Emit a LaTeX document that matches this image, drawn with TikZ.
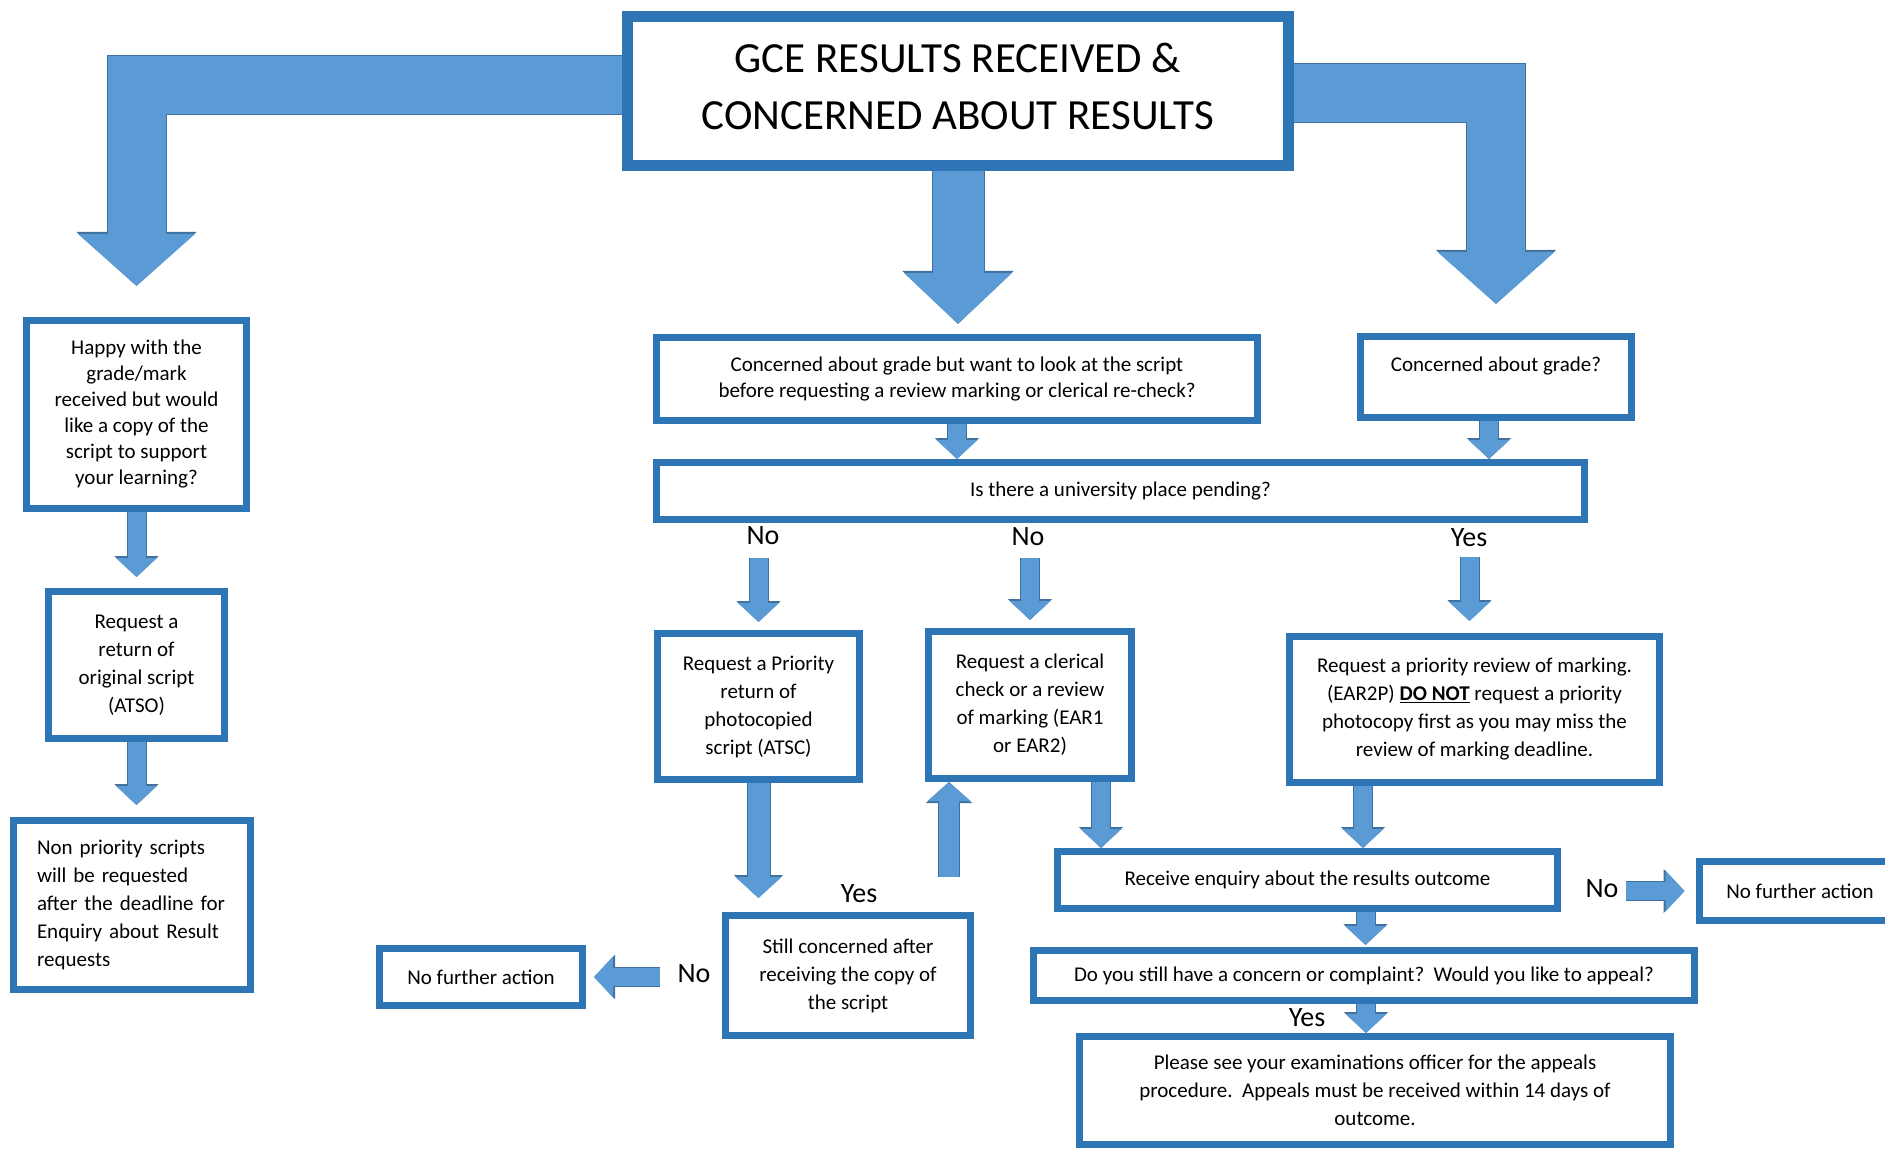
\documentclass[tikz,border=0pt]{standalone}
\usepackage{fontspec}
\setmainfont{Carlito}
\usetikzlibrary{arrows.meta}
\definecolor{boxblue}{RGB}{46, 117, 182}
\definecolor{arrowfill}{RGB}{91, 155, 213}
\definecolor{arrowline}{RGB}{65, 113, 156}

\begin{document}
\begin{tikzpicture}[
        x=1pt, y=-1pt,
        box/.style={draw=boxblue, line width=7pt, fill=white, align=center,
            inner sep=0pt, font=\fontsize{21}{28}\selectfont},
        answer/.style={inner sep=0pt, font=\fontsize{28}{34}\selectfont},
        fat/.style n args={3}{
            draw=arrowfill, line width=#1, -{Triangle[width=#2, length=#3]},
            preaction={draw=arrowline, line width=#1+2pt,
                -{Triangle[width=#2+3pt, length=#3+2pt]}}
        },
        smallarrow/.style={fat={18pt}{40pt}{19pt}},
        bigarrow/.style={fat={58pt}{114pt}{52pt}}
    ]
        \useasboundingbox (0,0) rectangle (1885,1150);
        \clip (0,0) rectangle (1885,1150);

        \node (1) [
            box,
            line width=11pt,
            minimum width=661pt,
            minimum height=149pt,
            font=\fontsize{43}{57}\selectfont
        ] at (958,91)
        {GCE RESULTS RECEIVED \&\\CONCERNED ABOUT RESULTS\rule[-10pt]{0pt}{0pt}};

        \node (2) [
            box,
            minimum width=220pt,
            minimum height=188pt,
            font=\fontsize{21}{26}\selectfont
        ] at (136.5,414.5)
        {Happy with the\\grade/mark\\received but would\\like a copy of the\\script to support\\your learning?};

        \node (3) [box, minimum width=176pt, minimum height=147pt] at (136.5,665)
        {Request a\\return of\\original script\\(ATSO)};

        \node (4) [
            box,
            align=left,
            text width=190pt,
            minimum width=237pt,
            minimum height=169pt
        ] at (132,905)
        {Non priority scripts\\will be requested\\after the deadline for\\Enquiry about Result\\requests};

        \node (5) [
            box,
            minimum width=601pt,
            minimum height=83pt,
            font=\fontsize{21}{26}\selectfont
        ] at (957,379)
        {Concerned about grade but want to look at the script\\before requesting a review marking or clerical re-check?};

        \node (6) [
            box,
            minimum width=271pt,
            minimum height=81pt,
            font=\fontsize{21}{26}\selectfont
        ] at (1496,377)
        {Concerned about grade?\\\mbox{}};

        \node (7) [box, minimum width=928pt, minimum height=57pt] at (1120.5,491)
        {Is there a university place pending?};

        \node (8) [box, minimum width=202pt, minimum height=146pt] at (758.5,706.5)
        {Request a Priority\\return of\\photocopied\\script (ATSC)};

        \node (9) [box, minimum width=203pt, minimum height=147pt] at (1030,705)
        {Request a clerical\\check or a review\\of marking (EAR1\\or EAR2)};

        \node (10) [box, minimum width=370pt, minimum height=146pt] at (1474.5,709.5)
        {Request a priority review of marking.\\(EAR2P) \underline{\textbf{DO NOT}} request a priority\\photocopy first as you may miss the\\review of marking deadline.};

        \node (11) [box, minimum width=245pt, minimum height=120pt] at (848,975.5)
        {Still concerned after\\receiving the copy of\\the script};

        \node (12) [box, minimum width=203pt, minimum height=57pt] at (481,977)
        {No further action};

        \node (13) [box, minimum width=500pt, minimum height=57pt] at (1307.5,880)
        {Receive enquiry about the results outcome};

        \node (14) [box, minimum width=202pt, minimum height=59pt] at (1800,891)
        {No further action};

        \node (15) [box, minimum width=661pt, minimum height=50pt] at (1364,975.5)
        {Do you still have a concern or complaint?\ \ Would you like to appeal?};

        \node (16) [box, minimum width=591pt, minimum height=108pt] at (1375,1090.5)
        {Please see your examinations officer for the appeals\\procedure.\ \ Appeals must be received within 14 days of\\outcome.};

        % yes / no answers
        \node (no1) [answer] at (763,536) {No};
        \node (no2) [answer] at (1028,537) {No};
        \node (yes1) [answer] at (1469,538) {Yes};
        \node (yes2) [answer] at (859,894) {Yes};
        \node (no3) [answer] at (694,974) {No};
        \node (no4) [answer] at (1602,889) {No};
        \node (yes3) [answer] at (1307,1018) {Yes};

        \draw[bigarrow, shorten >=31pt] ([yshift=6pt]1.west) -| (2.north);
        \draw[bigarrow, shorten >=29pt] ([yshift=-2.5pt]1.east) -| (6.north);
        \draw[fat={51pt}{105pt}{51pt}, shorten >=10pt] (1.south) to (1.south |- 5.north);

        \draw[smallarrow, shorten >=11pt] (2.south) to (2.south |- 3.north);
        \draw[smallarrow, shorten >=12pt] (3.south) to (3.south |- 4.north);
        \draw[smallarrow] (5.south) to (5.south |- 7.north);
        \draw[smallarrow] ([xshift=-7pt]6.south) to ([xshift=-7pt]6.south |- 7.north);
        \draw[smallarrow, shorten <=35pt, shorten >=8pt] (8.north |- 7.south) to (8.north);
        \draw[smallarrow, shorten <=35pt, shorten >=8pt] (9.north |- 7.south) to (9.north);
        \draw[smallarrow, shorten <=34pt, shorten >=12pt] ([xshift=-5pt]10.north |- 7.south) to ([xshift=-5pt]10.north);
        \draw[fat={22pt}{45pt}{21pt}, shorten >=14pt] (8.south) to (8.south |- 11.north);
        \draw[fat={20pt}{42pt}{19pt}, shorten <=35pt] ([xshift=-81pt]9.south |- 11.north) to ([xshift=-81pt]9.south);
        \draw[smallarrow] ([xshift=71pt]9.south) to ([xshift=71pt]9.south |- 13.north);
        \draw[smallarrow] ([xshift=-111.5pt]10.south) to ([xshift=-111.5pt]10.south |- 13.north);
        \draw[smallarrow, shorten <=65pt, shorten >=11pt] (13.east |- 14.west) to (14.west);
        \draw[smallarrow, shorten >=2pt] ([xshift=58pt]13.south) to ([xshift=58pt]13.south |- 15.north);
        \draw[smallarrow] ([xshift=2pt]15.south) to ([xshift=2pt]15.south |- 16.north);
        \draw[smallarrow, shorten <=62pt, shorten >=8pt] (11.west |- 12.east) to (12.east);
    \end{tikzpicture}
\end{document}
